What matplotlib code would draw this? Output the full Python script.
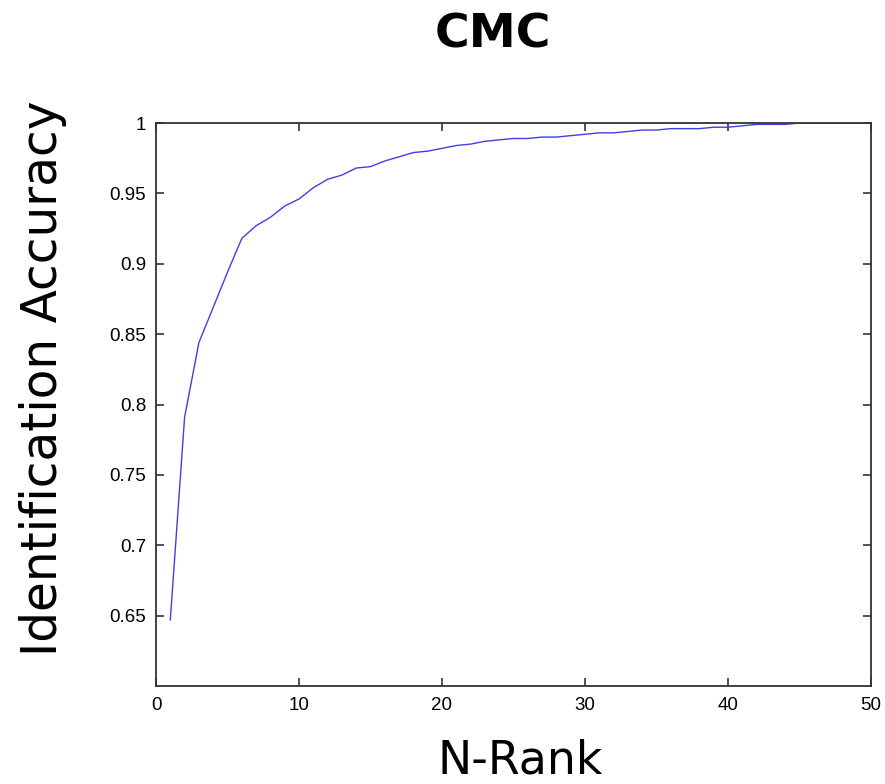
import matplotlib
matplotlib.use("Agg")
import matplotlib.pyplot as plt

ranks = list(range(1, 51))
accuracy = [0.647, 0.791, 0.844, 0.869, 0.894, 0.918, 0.927, 0.933, 0.941, 0.946,
            0.954, 0.960, 0.963, 0.968, 0.969, 0.973, 0.976, 0.979, 0.980, 0.982,
            0.984, 0.985, 0.987, 0.988, 0.989, 0.989, 0.990, 0.990, 0.991, 0.992,
            0.993, 0.993, 0.994, 0.995, 0.995, 0.996, 0.996, 0.996, 0.997, 0.997,
            0.998, 0.999, 0.999, 0.999, 1.000, 1.000, 1.000, 1.000, 1.000, 1.000]
xticks = [0, 10, 20, 30, 40, 50]
yticks = [0.65, 0.7, 0.75, 0.8, 0.85, 0.9, 0.95, 1.0]
yticklabels = ["0.65", "0.7", "0.75", "0.8", "0.85", "0.9", "0.95", "1"]

fig = plt.figure(figsize=(8.85, 7.84), dpi=100)
ax = fig.add_axes([156/885, 1-686/784, (871-156)/885, (686-123)/784])
ax.plot(ranks, accuracy, color="#4040e0", lw=1.0)
ax.set_xlim(0, 50)
ax.set_ylim(0.6, 1.0)
ax.set_xticks(xticks)
ax.set_xticklabels([str(t) for t in xticks], family="Liberation Sans", fontsize=13.5)
ax.set_yticks(yticks)
ax.set_yticklabels(yticklabels, family="Liberation Sans", fontsize=13.5)
ax.tick_params(direction="in", length=6, width=1.2, top=True, right=True, color="#333333")
ax.tick_params(axis="y", pad=7)
ax.tick_params(axis="x", pad=8)
for s in ax.spines.values():
    s.set_linewidth(1.3)
    s.set_color("#333333")

fig.text(493/885, 1-35/784, "CMC", ha="center", va="center", fontsize=34, fontweight="bold",
         family="DejaVu Sans")
fig.text(43/885, 1-378/784, "Identification Accuracy", rotation=90, ha="center", va="center",
         fontsize=35, family="DejaVu Sans")
fig.text(520/885, 1/784, "N-Rank", ha="center", va="bottom", fontsize=33, family="DejaVu Sans")

fig.savefig("out.png", dpi=100)
